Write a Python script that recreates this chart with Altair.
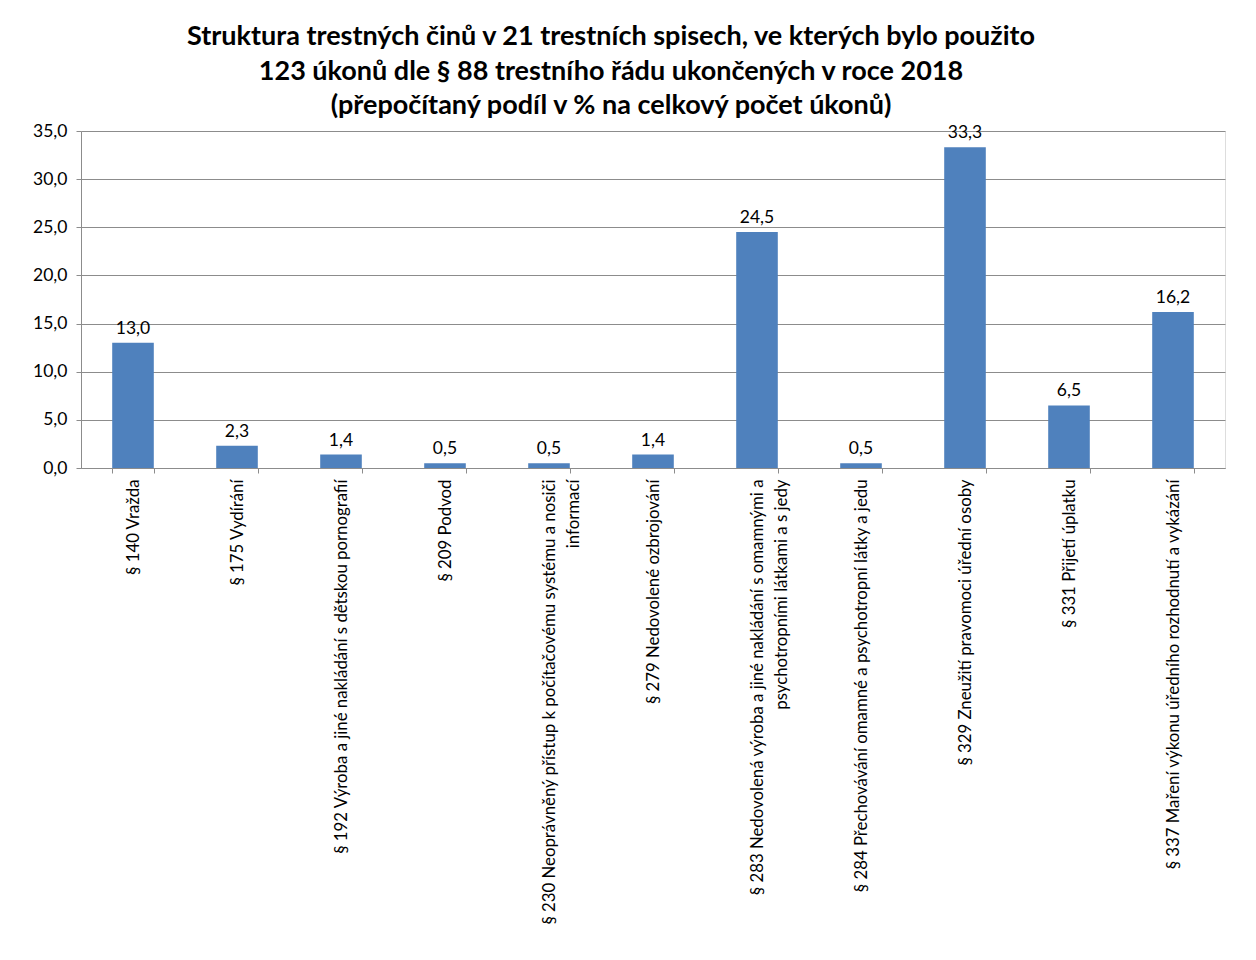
import altair as alt
import pandas as pd

categories = [
    "§ 140 Vražda",
    "§ 175 Vydírání",
    "§ 192 Výroba a jiné nakládání s dětskou pornografií",
    "§ 209 Podvod",
    "§ 230 Neoprávněný přístup k počítačovému systému a nosiči|informací",
    "§ 279 Nedovolené ozbrojování",
    "§ 283 Nedovolená výroba a jiné nakládání s omamnými a|psychotropními látkami a s jedy",
    "§ 284 Přechovávání omamné a psychotropní látky a jedu",
    "§ 329 Zneužití pravomoci úřední osoby",
    "§ 331 Přijetí úplatku",
    "§ 337 Maření výkonu úředního rozhodnutí a vykázání",
]
values = [13.0, 2.3, 1.4, 0.5, 0.5, 1.4, 24.5, 0.5, 33.3, 6.5, 16.2]
y_ticks = [0, 5, 10, 15, 20, 25, 30, 35]
title_lines = [
    "Struktura trestných činů v 21 trestních spisech, ve kterých bylo použito",
    "123 úkonů dle § 88 trestního řádu ukončených v roce 2018",
    "(přepočítaný podíl v % na celkový počet úkonů)",
]

FONT = "Lato"
BAR = "#4F81BD"
GRID = "#8C8C8C"

df = pd.DataFrame({"cat": categories, "val": values})

x_enc = alt.X(
    "cat:N",
    sort=None,
    scale=alt.Scale(paddingInner=0.6, paddingOuter=0.3),
    axis=alt.Axis(
        title=None,
        labelAngle=-90,
        labelExpr="split(datum.label, '|')",
        labelLineHeight=24,
        labelLimit=700,
        labelOverlap=False,
        labelFontSize=16.8,
        labelFont=FONT,
        labelColor="#000000",
        labelPadding=6,
        tickBand="extent",
        tickSize=5,
        tickColor=GRID,
        domainColor=GRID,
        grid=False,
    ),
)
y_enc = alt.Y(
    "val:Q",
    scale=alt.Scale(domain=[0, 35], nice=False),
    axis=alt.Axis(
        title=None,
        values=y_ticks,
        labelExpr="replace(format(datum.value, '.1f'), '.', ',')",
        labelFontSize=17.5,
        labelFont=FONT,
        labelColor="#000000",
        labelPadding=9,
        tickSize=5,
        tickColor=GRID,
        domainColor=GRID,
        gridColor=GRID,
        grid=True,
    ),
)

base = alt.Chart(df)
bars = base.mark_bar(color=BAR).encode(x=x_enc, y=y_enc)
labels = base.transform_calculate(
    lab="replace(format(datum.val, '.1f'), '.', ',')"
).mark_text(baseline="bottom", dy=-5, fontSize=17.5, font=FONT, color="#000000").encode(
    x=alt.X("cat:N", sort=None), y="val:Q", text="lab:N"
)

chart = (
    alt.layer(bars, labels)
    .properties(
        width=1144,
        height=337,
        padding={"left": 24, "top": 15, "right": 5, "bottom": 5},
        title=alt.TitleParams(
            text=title_lines,
            font=FONT,
            fontSize=27,
            fontWeight="bold",
            color="#000000",
            anchor="middle",
            frame="group",
            offset=2,
            dx=-42,
            lineHeight=34.5,
        ),
    )
    .configure_view(strokeWidth=0)
    .configure(background="white")
)

chart.save("out.html", embed_options={"renderer": "svg", "actions": False})
